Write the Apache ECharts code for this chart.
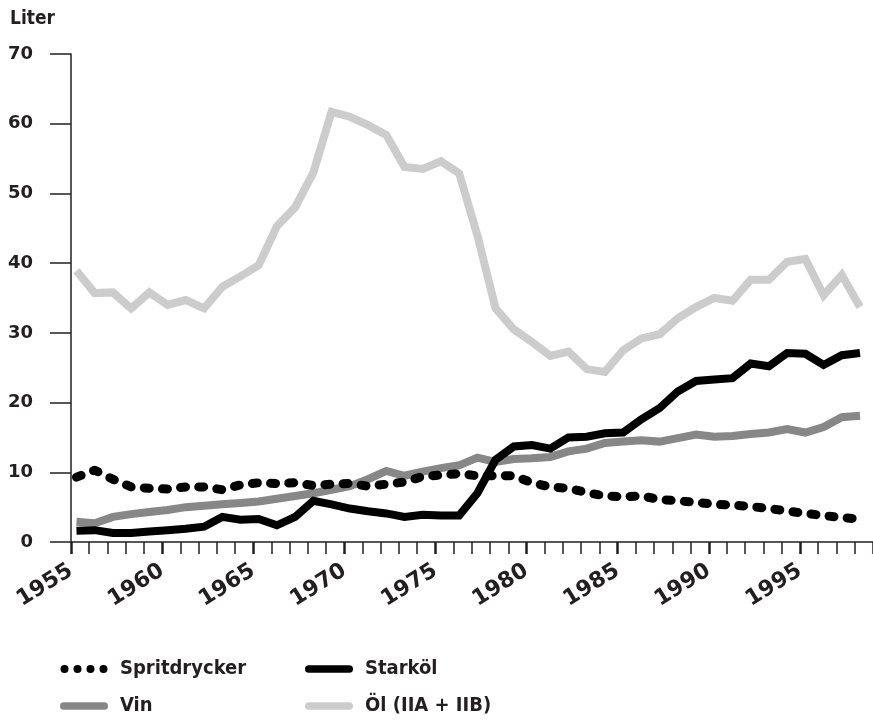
<!DOCTYPE html>
<html>
<head>
<meta charset="utf-8">
<script src="https://cdn.jsdelivr.net/npm/echarts@6/dist/echarts.min.js"></script>
<style>
  html, body { margin: 0; padding: 0; background: #fff; }
  #main { width: 873px; height: 721px; }
</style>
</head>
<body>
<div id="main"></div>
<script>
// 数据: 年份与四个系列 (liter per person)
var years = [1955, 1956, 1957, 1958, 1959, 1960, 1961, 1962, 1963, 1964,
  1965, 1966, 1967, 1968, 1969, 1970, 1971, 1972, 1973, 1974,
  1975, 1976, 1977, 1978, 1979, 1980, 1981, 1982, 1983, 1984,
  1985, 1986, 1987, 1988, 1989, 1990, 1991, 1992, 1993, 1994,
  1995, 1996, 1997, 1998];

var spritdrycker = [9.3, 10.3, 9.0, 7.9, 7.7, 7.6, 7.9, 7.9, 7.5, 8.2,
  8.5, 8.4, 8.5, 8.1, 8.3, 8.4, 8.0, 8.3, 8.6, 9.4,
  9.6, 9.8, 9.5, 9.5, 9.5, 8.5, 7.9, 7.7, 7.1, 6.6,
  6.5, 6.6, 6.1, 5.9, 5.7, 5.4, 5.3, 5.1, 4.8, 4.45,
  4.1, 3.8, 3.5, 3.3];

var vin = [2.9, 2.7, 3.6, 4.0, 4.3, 4.6, 5.0, 5.2, 5.4, 5.6,
  5.8, 6.2, 6.6, 7.0, 7.5, 8.0, 9.0, 10.2, 9.5, 10.1,
  10.6, 11.0, 12.1, 11.5, 11.9, 12.0, 12.2, 13.0, 13.4, 14.2,
  14.4, 14.6, 14.4, 14.9, 15.4, 15.1, 15.2, 15.5, 15.7, 16.2,
  15.7, 16.5, 17.9, 18.1];

var starkol = [1.6, 1.7, 1.3, 1.3, 1.5, 1.7, 1.9, 2.2, 3.6, 3.2,
  3.3, 2.4, 3.6, 5.9, 5.4, 4.8, 4.4, 4.1, 3.6, 3.9,
  3.8, 3.8, 7.0, 11.8, 13.7, 13.9, 13.4, 15.0, 15.1, 15.6,
  15.7, 17.6, 19.2, 21.6, 23.1, 23.3, 23.5, 25.6, 25.2, 27.1,
  27.0, 25.4, 26.8, 27.1];

var ol = [38.9, 35.7, 35.8, 33.5, 35.8, 34.0, 34.7, 33.5, 36.6, 38.1,
  39.7, 45.3, 48.0, 53.0, 61.7, 61.0, 59.8, 58.4, 53.8, 53.5,
  54.6, 52.9, 44.0, 33.5, 30.5, 28.7, 26.7, 27.3, 24.8, 24.4,
  27.5, 29.2, 29.8, 32.1, 33.7, 35.0, 34.6, 37.6, 37.6, 40.2,
  40.6, 35.4, 38.3, 33.7];

var yTicks = [0, 10, 20, 30, 40, 50, 60, 70];

// 原图中数据点略偏离年份刻度
var yearShift = 0.3;

(function () {
  var myChart = echarts.init(document.getElementById("main"));

  var font = "'DejaVu Sans', sans-serif";
  var legendFont = "'Liberation Sans Narrow', 'DejaVu Sans Condensed', 'DejaVu Sans', sans-serif";
  var ink = '#231f20';

  function pairs(values) {
    return values.map(function (v, i) { return [years[i] + yearShift, v]; });
  }

  // 图例图标
  var dotsIcon = 'path://M0,4a4,4 0 1,0 8,0a4,4 0 1,0 -8,0z' +
    'M13,4a4,4 0 1,0 8,0a4,4 0 1,0 -8,0z' +
    'M26,4a4,4 0 1,0 8,0a4,4 0 1,0 -8,0z' +
    'M39,4a4,4 0 1,0 8,0a4,4 0 1,0 -8,0z';
  var barIcon = 'path://M4,0H46A4,4 0 0,1 46,8H4A4,4 0 0,1 4,0z';

  var legendBase = {
    orient: 'vertical',
    top: 659,
    height: 62,
    padding: 0,
    itemWidth: 48,
    itemHeight: 8,
    itemGap: 17,
    textStyle: {
      fontFamily: legendFont,
      fontWeight: 'bold',
      fontSize: 20,
      color: ink,
      padding: [0, 0, 0, 7]
    }
  };

  var option = {
    animation: false,
    title: {
      text: 'Liter',
      left: 5,
      top: 5,
      textStyle: { fontFamily: legendFont, fontWeight: 'bold', fontSize: 19, color: ink }
    },
    legend: [
      Object.assign({}, legendBase, {
        left: 60,
        data: [{ name: 'Spritdrycker', icon: dotsIcon }, { name: 'Vin', icon: barIcon }]
      }),
      Object.assign({}, legendBase, {
        left: 305,
        data: [{ name: 'Starköl', icon: barIcon }, { name: 'Öl (IIA + IIB)', icon: barIcon }]
      })
    ],
    grid: {
      top: 54,
      left: 71,
      width: 820,   // 1955-2000, 2000 落在画布外
      bottom: 179,
      outerBoundsMode: 'none',
      containLabel: false
    },
    xAxis: {
      type: 'value',
      min: 1955,
      max: 2000,
      interval: 5,
      splitLine: { show: false },
      axisLine: { show: true, lineStyle: { color: ink, width: 1.5 } },
      axisTick: { show: true, length: 12, lineStyle: { color: ink, width: 2.5 } },
      minorTick: { show: true, splitNumber: 5, length: 12, lineStyle: { color: ink, width: 1.5 } },
      axisLabel: {
        rotate: 32,
        margin: 27,
        fontFamily: font,
        fontWeight: 'bold',
        fontSize: 22,
        color: ink,
        showMaxLabel: false,
        formatter: function (v) { return String(v); }
      }
    },
    yAxis: {
      type: 'value',
      min: 0,
      max: 70,
      interval: 10,
      splitLine: { show: false },
      axisLine: { show: true, lineStyle: { color: ink, width: 1.5 } },
      axisTick: { length: 21, lineStyle: { color: ink, width: 1.5 } },
      axisLabel: {
        margin: 38,
        fontFamily: font,
        fontWeight: 'bold',
        fontSize: 18,
        color: ink,
        formatter: function (v) { return yTicks.indexOf(v) >= 0 ? String(v) : ''; }
      }
    },
    series: [
      {
        name: 'Öl (IIA + IIB)',
        type: 'line',
        showSymbol: false,
        data: pairs(ol),
        itemStyle: { color: '#cccccc' },
        lineStyle: { color: '#cccccc', width: 8, join: 'miter' }
      },
      {
        name: 'Vin',
        type: 'line',
        showSymbol: false,
        data: pairs(vin),
        itemStyle: { color: '#878787' },
        lineStyle: { color: '#878787', width: 8, join: 'miter' }
      },
      {
        name: 'Starköl',
        type: 'line',
        showSymbol: false,
        data: pairs(starkol),
        itemStyle: { color: '#000000' },
        lineStyle: { color: '#000000', width: 8, join: 'miter' }
      },
      {
        name: 'Spritdrycker',
        type: 'line',
        showSymbol: false,
        data: pairs(spritdrycker),
        itemStyle: { color: '#000000' },
        lineStyle: { color: '#000000', width: 9, type: [5, 13.2], cap: 'round', join: 'round' }
      }
    ]
  };

  myChart.setOption(option);
  window.addEventListener("resize", function () {
    myChart.resize();
  });
})();
</script>
</body>
</html>
